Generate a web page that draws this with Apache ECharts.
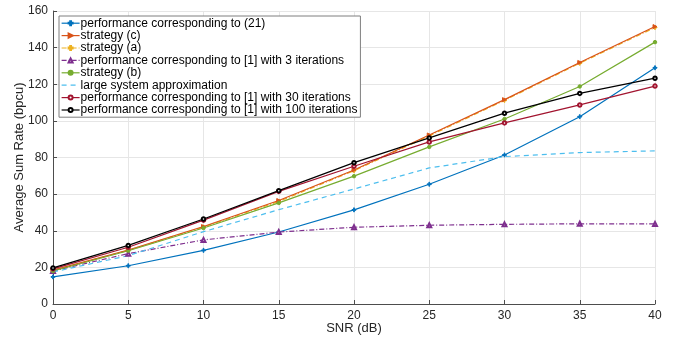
<!DOCTYPE html>
<html><head><meta charset="utf-8">
<script src="https://cdn.jsdelivr.net/npm/echarts@6/dist/echarts.min.js"></script>
<style>html,body{margin:0;padding:0;background:#fff}#c{width:676px;height:341px}</style>
</head><body><div id="c"></div>
<script>
var snr = [0, 5, 10, 15, 20, 25, 30, 35, 40];
var perf21 = [14.8, 20.9, 29.3, 39.3, 51.4, 65.4, 81.4, 102.3, 129];
var strategyC = [18.5, 29.5, 42.3, 56.5, 73.2, 92.3, 111.6, 131.9, 151.5];
var strategyA = [18.3, 29.3, 42.0, 56.0, 72.8, 91.8, 111.2, 131.5, 151];
var iter3 = [18.0, 27.5, 35.0, 39.3, 41.9, 43.0, 43.5, 43.8, 43.7];
var strategyB = [18.0, 29.1, 41.5, 55.2, 69.8, 85.8, 101.0, 118.8, 143];
var largeSys = [17.5, 26.4, 39.5, 51.5, 62.8, 74.3, 80.5, 82.7, 83.6];
var iter30 = [19.2, 31.0, 45.8, 61.5, 75.2, 88.5, 98.9, 108.7, 119];
var iter100 = [19.7, 32.0, 46.4, 61.9, 77.2, 90.7, 104.2, 115.0, 123.3];
var names = ['performance corresponding to (21)', 'strategy (c)', 'strategy (a)',
  'performance corresponding to [1] with 3 iterations', 'strategy (b)',
  'large system approximation', 'performance corresponding to [1] with 30 iterations',
  'performance corresponding to [1] with 100 iterations'];
var xTicks = [0, 5, 10, 15, 20, 25, 30, 35, 40];
var yTicks = [0, 20, 40, 60, 80, 100, 120, 140, 160];

function pairs(v){ return snr.map(function(x,i){ return [x, v[i]]; }); }
var plus = 'path://M4,0h2v4h4v2h-4v4h-2v-4h-4v-2h4z';
function mk(name, data, color, symbol, size, dash, extra){
  var s = {
    name: name, type: 'line', data: pairs(data), symbol: symbol, symbolSize: size,
    lineStyle: {color: color, width: 1.2, type: dash},
    itemStyle: {color: color, borderColor: color, borderWidth: 1},
    animation: false
  };
  if (extra) for (var k in extra) s[k] = extra[k];
  return s;
}
var chart = echarts.init(document.getElementById('c'), null, {renderer: 'canvas'});
var font = 'Liberation Sans, Arial, Helvetica, sans-serif';
chart.setOption({
  animation: false,
  textStyle: {fontFamily: font},
  grid: {left: 53, right: 21, top: 11, bottom: 37, containLabel: false, outerBoundsMode: 'none'},
  xAxis: {
    type: 'value', min: 0, max: 40, interval: 5,
    name: 'SNR (dB)', nameLocation: 'middle', nameGap: 18, nameMoveOverlap: false,
    nameTextStyle: {fontSize: 13, color: '#262626', fontFamily: font},
    axisLine: {show: true, lineStyle: {color: '#4d4d4d', width: 1}},
    axisTick: {show: true, inside: true, length: 4, lineStyle: {color: '#4d4d4d'}},
    axisLabel: {fontSize: 12, color: '#262626', margin: 6, fontFamily: font,
      formatter: function(v){ return xTicks.indexOf(v) >= 0 ? String(v) : ''; }},
    splitLine: {show: true, lineStyle: {color: '#e6e6e6', width: 1}}
  },
  yAxis: {
    type: 'value', min: 0, max: 160, interval: 20,
    name: 'Average Sum Rate (bpcu)', nameLocation: 'middle', nameGap: 27, nameMoveOverlap: false,
    nameTextStyle: {fontSize: 13, color: '#262626', fontFamily: font},
    axisLine: {show: true, lineStyle: {color: '#4d4d4d', width: 1}},
    axisTick: {show: true, inside: true, length: 4, lineStyle: {color: '#4d4d4d'}},
    axisLabel: {fontSize: 12, color: '#262626', margin: 5, fontFamily: font,
      formatter: function(v){ return yTicks.indexOf(v) >= 0 ? String(v) : ''; }},
    splitLine: {show: true, lineStyle: {color: '#e6e6e6', width: 1}}
  },
  legend: {
    orient: 'vertical', left: 59, top: 16, itemWidth: 18, itemHeight: 5, itemGap: 0,
    padding: [1, 3, 1, 2], borderColor: '#7f7f7f', borderWidth: 1, backgroundColor: '#fff',
    lineStyle: {width: 1.2},
    textStyle: {fontSize: 12, lineHeight: 12.4, color: '#000', fontFamily: font, padding: [0, 0, 0, -4]},
    data: names
  },
  series: [
    mk(names[0], perf21, '#0072BD', plus, 4, 'solid'),
    mk(names[1], strategyC, '#D95319', 'triangle', 4, 'solid', {symbolRotate: -90, z: 3}),
    mk(names[2], strategyA, '#EDB120', plus, 4, [5, 2, 1, 2], {z: 2}),
    mk(names[3], iter3, '#7E2F8E', 'emptyTriangle', 4, [5, 2, 1, 2]),
    mk(names[4], strategyB, '#77AC30', 'circle', 3.5, 'solid'),
    mk(names[5], largeSys, '#4DBEEE', 'circle', 4, [5, 4],
      {showSymbol: false, itemStyle: {color: '#4DBEEE', opacity: 0}}),
    mk(names[6], iter30, '#A2142F', 'emptyCircle', 3.5, 'solid'),
    mk(names[7], iter100, '#000000', 'emptyCircle', 3.5, 'solid')
  ]
});
</script></body></html>
